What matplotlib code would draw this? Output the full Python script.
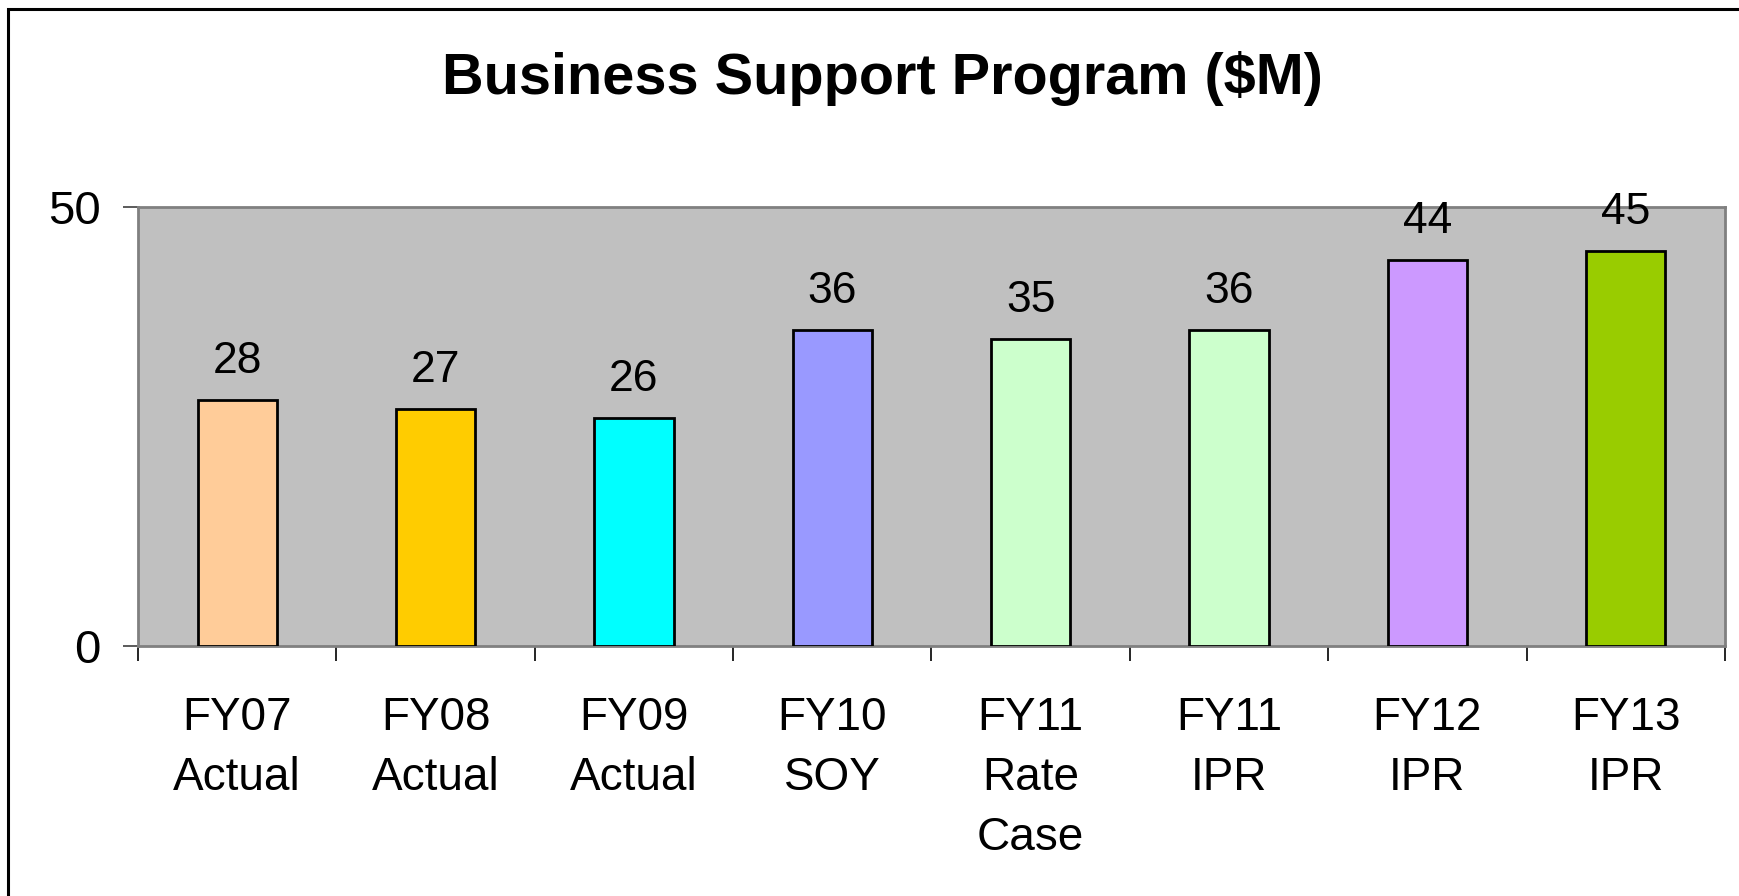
import matplotlib
matplotlib.use('Agg')
import matplotlib.pyplot as plt
from matplotlib.patches import Rectangle
import numpy as np

categories = ['FY07\nActual', 'FY08\nActual', 'FY09\nActual', 'FY10\nSOY',
              'FY11\nRate\nCase', 'FY11\nIPR', 'FY12\nIPR', 'FY13\nIPR']
values = [28, 27, 26, 36, 35, 36, 44, 45]
bar_colors = ['#FFCC99', '#FFCC00', '#00FFFF', '#9999FF',
              '#CCFFCC', '#CCFFCC', '#CC99FF', '#99CC00']
y_ticks = [0, 50]
title = 'Business Support Program ($M)'

plt.rcParams['font.family'] = ['Liberation Sans', 'DejaVu Sans']
W, H = 1740, 896
fig = plt.figure(figsize=(W / 100, H / 100), dpi=100)
fig.patch.set_facecolor('white')

# outer frame (only top/left visible, as in the reference)
fig.patches.append(Rectangle((8 / W, -0.2), 1.5, 1.2 - 9 / H,
                             transform=fig.transFigure, fill=False,
                             edgecolor='black', linewidth=2.2))

ax = fig.add_axes([138 / W, 1 - 646 / H, (1725 - 138) / W, (646 - 207) / H])
ax.set_facecolor('#C0C0C0')
x = np.arange(len(values))
ax.bar(x, values, width=0.4, color=bar_colors, edgecolor='black',
       linewidth=2, zorder=3)
ax.set_xlim(-0.5, len(values) - 0.5)
ax.set_ylim(y_ticks[0], y_ticks[-1])

for xi, v in zip(x, values):
    ax.annotate(str(v), (xi, v), xytext=(0, 19.5), textcoords='offset points',
                ha='center', va='baseline', fontsize=32, zorder=4)

for s in ax.spines.values():
    s.set_color('#808080')
    s.set_linewidth(2)

ax.set_yticks(y_ticks)
ax.set_yticklabels([str(t) for t in y_ticks], fontsize=34)
ax.tick_params(axis='y', length=11, width=1.2, color='#404040', pad=16)

ax.set_xticks(x)
ax.set_xticklabels(categories, fontsize=33, linespacing=1.47)
ax.tick_params(axis='x', which='major', length=0, pad=36)
ax.set_xticks(np.arange(len(values) + 1) - 0.5, minor=True)
ax.tick_params(axis='x', which='minor', length=11, width=1.2, color='black')

fig.text(882 / W, 1 - 94 / H, title, ha='center', va='baseline',
         fontsize=41.5, fontweight='bold')

fig.savefig('out.png', dpi=100)
